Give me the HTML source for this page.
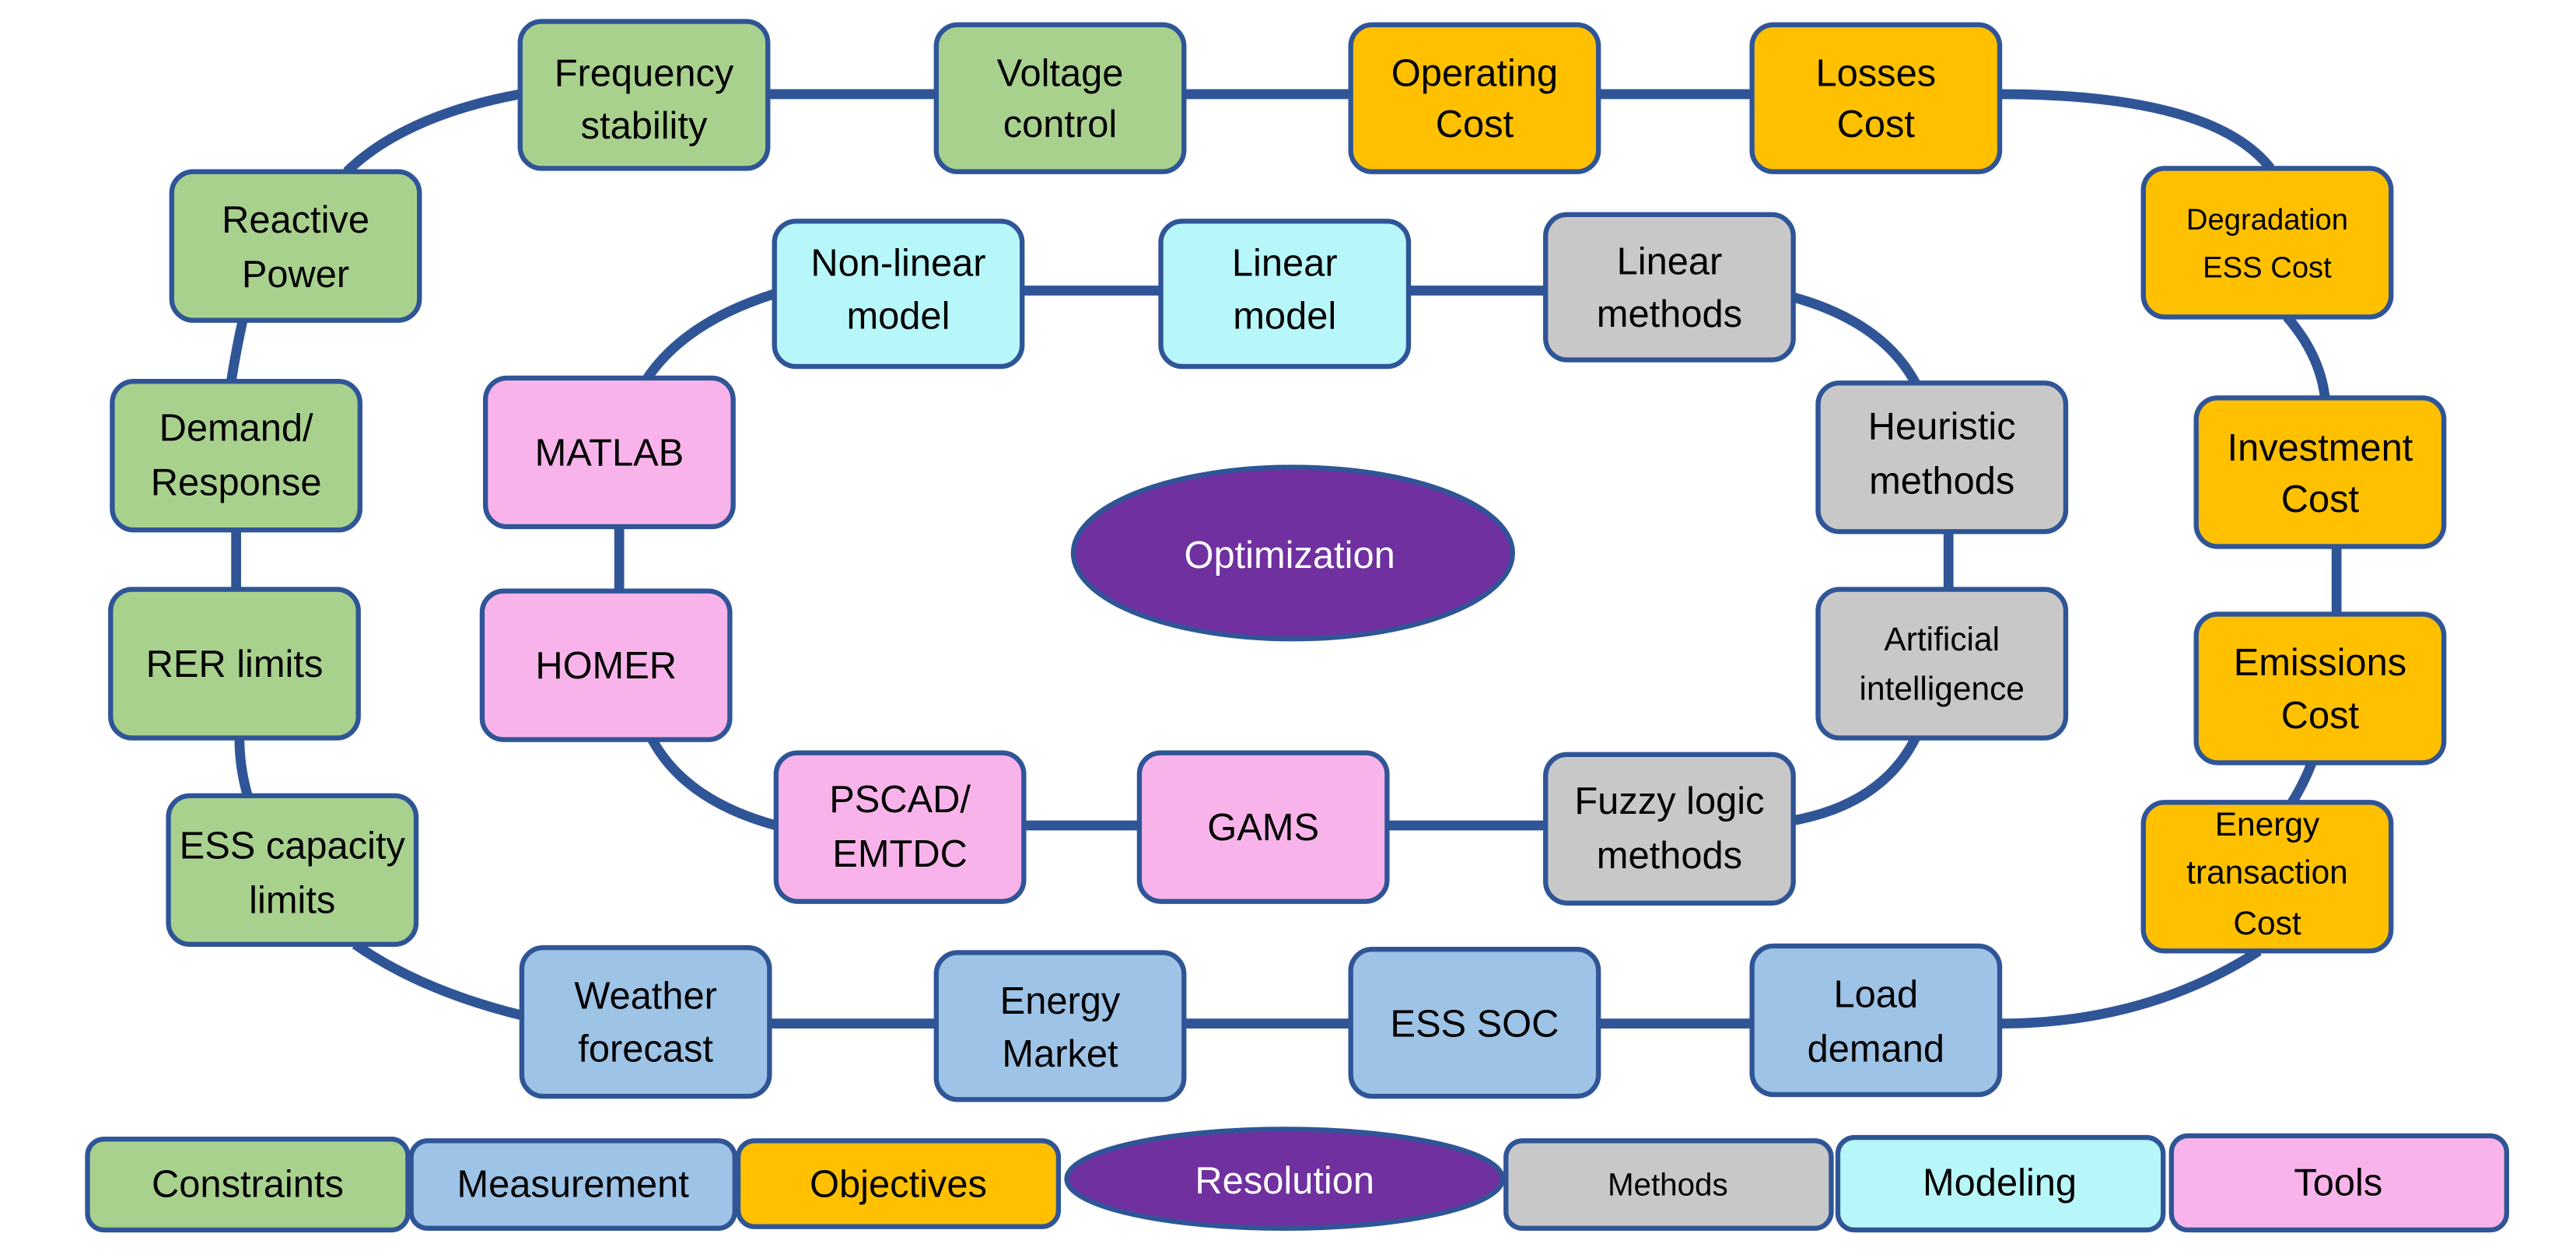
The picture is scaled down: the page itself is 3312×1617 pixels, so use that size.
<!DOCTYPE html>
<html><head><meta charset="utf-8"><style>
html,body{margin:0;padding:0;background:#fff;width:3312px;height:1617px;overflow:hidden}
svg{display:block}
text{font-family:"Liberation Sans",sans-serif;fill:#000;text-anchor:middle}
.b{stroke:#2f5597;stroke-width:3}
.c{fill:none;stroke:#2f5597;stroke-width:6}
</style></head><body>
<svg width="3312" height="1617" viewBox="0 0 1560 762" preserveAspectRatio="none">
<!-- outer ring connectors -->
<path class="c" d="M465,57 H1061"/>
<path class="c" d="M1211,57 Q1340,57 1375,102"/>
<path class="c" d="M1385,192 Q1405,215 1408,241"/>
<path class="c" d="M1415,331 V372"/>
<path class="c" d="M1400,462 Q1395,475 1388,486"/>
<path class="c" d="M1368,576 Q1300,620 1211,620"/>
<path class="c" d="M466,620 H1061"/>
<path class="c" d="M316,615 Q255,600 215,572"/>
<path class="c" d="M150,482 Q145,465 145,447"/>
<path class="c" d="M143,357 V321"/>
<path class="c" d="M140,231 Q143,212 147,194"/>
<path class="c" d="M210,104 Q245,70 315,57"/>
<!-- inner ring connectors -->
<path class="c" d="M469,178 Q415,195 392,229"/>
<path class="c" d="M619,176 H936"/>
<path class="c" d="M1086,180 Q1140,195 1160,232"/>
<path class="c" d="M1180,322 V357"/>
<path class="c" d="M1160,447 Q1140,487 1086,497"/>
<path class="c" d="M620,500 H936"/>
<path class="c" d="M470,500 Q415,485 395,448"/>
<path class="c" d="M375,319 V358"/>
<g class="b">
<rect x="315" y="13" width="150" height="89" rx="13" fill="#a9d18e"/>
<rect x="567" y="15" width="150" height="89" rx="13" fill="#a9d18e"/>
<rect x="818" y="15" width="150" height="89" rx="13" fill="#ffc000"/>
<rect x="1061" y="15" width="150" height="89" rx="13" fill="#ffc000"/>
<rect x="104" y="104" width="150" height="90" rx="13" fill="#a9d18e"/>
<rect x="68" y="231" width="150" height="90" rx="13" fill="#a9d18e"/>
<rect x="67" y="357" width="150" height="90" rx="13" fill="#a9d18e"/>
<rect x="102" y="482" width="150" height="90" rx="13" fill="#a9d18e"/>
<rect x="316" y="574" width="150" height="90" rx="13" fill="#9dc3e6"/>
<rect x="567" y="577" width="150" height="89" rx="13" fill="#9dc3e6"/>
<rect x="818" y="575" width="150" height="89" rx="13" fill="#9dc3e6"/>
<rect x="1061" y="573" width="150" height="90" rx="13" fill="#9dc3e6"/>
<rect x="1298" y="102" width="150" height="90" rx="13" fill="#ffc000"/>
<rect x="1330" y="241" width="150" height="90" rx="13" fill="#ffc000"/>
<rect x="1330" y="372" width="150" height="90" rx="13" fill="#ffc000"/>
<rect x="1298" y="486" width="150" height="90" rx="13" fill="#ffc000"/>
<rect x="469" y="134" width="150" height="88" rx="13" fill="#b7f7f9"/>
<rect x="703" y="134" width="150" height="88" rx="13" fill="#b7f7f9"/>
<rect x="936" y="130" width="150" height="88" rx="13" fill="#c8c8c8"/>
<rect x="294" y="229" width="150" height="90" rx="13" fill="#f8b4ea"/>
<rect x="292" y="358" width="150" height="90" rx="13" fill="#f8b4ea"/>
<rect x="470" y="456" width="150" height="90" rx="13" fill="#f8b4ea"/>
<rect x="690" y="456" width="150" height="90" rx="13" fill="#f8b4ea"/>
<rect x="936" y="457" width="150" height="90" rx="13" fill="#c8c8c8"/>
<rect x="1101" y="232" width="150" height="90" rx="13" fill="#c8c8c8"/>
<rect x="1101" y="357" width="150" height="90" rx="13" fill="#c8c8c8"/>
<ellipse cx="783" cy="335" rx="133" ry="52" fill="#7030a0"/>
<rect x="53" y="690" width="194" height="55" rx="10" fill="#a9d18e"/>
<rect x="249" y="691" width="196" height="53" rx="10" fill="#9dc3e6"/>
<rect x="447" y="691" width="194" height="52" rx="10" fill="#ffc000"/>
<ellipse cx="778" cy="714" rx="132" ry="30" fill="#7030a0"/>
<rect x="912" y="691" width="197" height="53" rx="10" fill="#c8c8c8"/>
<rect x="1113" y="689" width="197" height="56" rx="10" fill="#b7f7f9"/>
<rect x="1315" y="688" width="203" height="57" rx="10" fill="#f8b4ea"/>
</g>
<g font-size="23">
<text x="390" y="52">Frequency</text><text x="390" y="84">stability</text>
<text x="642" y="52">Voltage</text><text x="642" y="83">control</text>
<text x="893" y="52">Operating</text><text x="893" y="83">Cost</text>
<text x="1136" y="52">Losses</text><text x="1136" y="83">Cost</text>
<text x="179" y="141">Reactive</text><text x="179" y="174">Power</text>
<text x="143" y="267">Demand/</text><text x="143" y="300">Response</text>
<text x="142" y="410">RER limits</text>
<text x="177" y="520">ESS capacity</text><text x="177" y="553">limits</text>
<text x="391" y="611">Weather</text><text x="391" y="643">forecast</text>
<text x="642" y="614">Energy</text><text x="642" y="646">Market</text>
<text x="893" y="628">ESS SOC</text>
<text x="1136" y="610">Load</text><text x="1136" y="643">demand</text>
<text x="1405" y="279">Investment</text><text x="1405" y="310">Cost</text>
<text x="1405" y="409">Emissions</text><text x="1405" y="441">Cost</text>
<text x="544" y="167">Non-linear</text><text x="544" y="199">model</text>
<text x="778" y="167">Linear</text><text x="778" y="199">model</text>
<text x="1011" y="166">Linear</text><text x="1011" y="198">methods</text>
<text x="369" y="282">MATLAB</text>
<text x="367" y="411">HOMER</text>
<text x="545" y="492">PSCAD/</text><text x="545" y="525">EMTDC</text>
<text x="765" y="509">GAMS</text>
<text x="1011" y="493">Fuzzy logic</text><text x="1011" y="526">methods</text>
<text x="1176" y="266">Heuristic</text><text x="1176" y="299">methods</text>
<text x="781" y="344" fill="#fff" style="fill:#fff">Optimization</text>
<text x="150" y="725">Constraints</text>
<text x="347" y="725">Measurement</text>
<text x="544" y="725">Objectives</text>
<text x="778" y="723" style="fill:#fff">Resolution</text>
<text x="1211" y="724">Modeling</text>
<text x="1416" y="724">Tools</text>
</g>
<g font-size="18">
<text x="1373" y="139">Degradation</text><text x="1373" y="168">ESS Cost</text>
</g>
<g font-size="20">
<text x="1373" y="506">Energy</text><text x="1373" y="535">transaction</text><text x="1373" y="566">Cost</text>
<text x="1176" y="394">Artificial</text><text x="1176" y="424">intelligence</text>
</g>
<text x="1010" y="724" font-size="19">Methods</text>
</svg>
</body></html>
